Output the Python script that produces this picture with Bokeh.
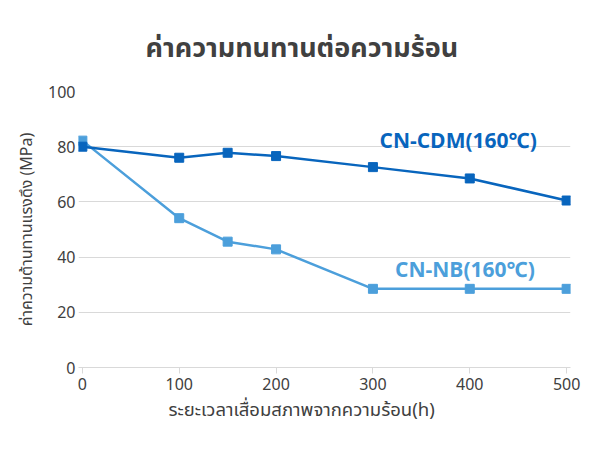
from bokeh.plotting import figure
from bokeh.models import Label, FixedTicker, Range1d, Title
from bokeh.embed import file_html
from bokeh.resources import INLINE

hours_cdm = [0, 100, 150, 200, 300, 400, 500]
cn_cdm = [80.0, 76.0, 77.8, 76.6, 72.6, 68.5, 60.5]
hours_nb = [0, 100, 150, 200, 300, 400, 500]
cn_nb = [82.2, 54.1, 45.6, 42.8, 28.5, 28.5, 28.5]
x_ticks = [0, 100, 200, 300, 400, 500]
y_ticks = [0, 20, 40, 60, 80, 100]

title_text = "ค่าความทนทานต่อความร้อน"
x_title = "ระยะเวลาเสื่อมสภาพจากความร้อน(h)"
y_title = "ค่าความต้านทานแรงดึง (MPa)"
name_cdm = "CN-CDM(160℃)"
name_nb = "CN-NB(160℃)"

FONT = "Noto Sans Thai, Noto Sans, sans-serif"
C_CDM = "#0865BD"
C_NB = "#4C9FDB"

p = figure(width=585, height=435, output_backend="svg", toolbar_location=None,
           x_range=Range1d(-4, 504), y_range=Range1d(0, 100),
           min_border_left=78, min_border_right=15,
           min_border_top=91, min_border_bottom=68)
p.outline_line_color = None
p.background_fill_color = "white"
p.border_fill_color = "white"

p.xgrid.grid_line_color = None
p.ygrid.grid_line_color = "#d9d9d9"
p.ygrid.grid_line_width = 1

p.xaxis.ticker = FixedTicker(ticks=x_ticks)
p.yaxis.ticker = FixedTicker(ticks=y_ticks)
for ax in (p.xaxis[0], p.yaxis[0]):
    ax.major_label_text_font = FONT
    ax.major_label_text_font_size = "16px"
    ax.major_label_text_color = "#404040"
    ax.minor_tick_line_color = None
    ax.axis_label_text_font = FONT
    ax.axis_label_text_font_style = "normal"
    ax.axis_label_text_color = "#404040"

p.yaxis.axis_line_color = None
p.yaxis.major_tick_line_color = None
p.yaxis.major_tick_out = 0
p.yaxis.major_tick_in = 0
p.yaxis.major_label_standoff = 3
p.yaxis.axis_label = y_title
p.yaxis.axis_label_text_font_size = "16px"
p.yaxis.axis_label_standoff = 6

p.xaxis.axis_line_color = "#d9d9d9"
p.xaxis.major_tick_line_color = "#d9d9d9"
p.xaxis.major_tick_out = 6
p.xaxis.major_tick_in = 0
p.xaxis.major_label_standoff = 4

p.line(hours_nb, cn_nb, line_color=C_NB, line_width=2.5)
p.scatter(hours_nb, cn_nb, marker="square", size=9, fill_color=C_NB, line_color=C_NB)
p.line(hours_cdm, cn_cdm, line_color=C_CDM, line_width=2.5)
p.scatter(hours_cdm, cn_cdm, marker="square", size=9, fill_color=C_CDM, line_color=C_CDM)

p.add_layout(Label(x=388, y=82, text=name_cdm, text_align="center", text_baseline="middle",
                   text_font=FONT, text_font_size="21px", text_font_style="bold",
                   text_color=C_CDM))
p.add_layout(Label(x=395, y=35, text=name_nb, text_align="center", text_baseline="middle",
                   text_font=FONT, text_font_size="21px", text_font_style="bold",
                   text_color=C_NB))

p.add_layout(Title(text=title_text, align="left", offset=67, standoff=46,
                   text_font=FONT, text_font_size="27px", text_font_style="bold",
                   text_color="#404040"), "above")
p.add_layout(Title(text=x_title, align="left", offset=90, standoff=2,
                   text_font=FONT, text_font_size="18.5px", text_font_style="normal",
                   text_color="#404040"), "below")

open("out.html", "w").write(file_html(p, INLINE))
